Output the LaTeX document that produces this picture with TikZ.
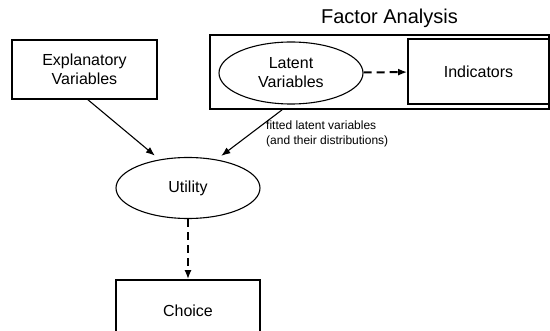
\documentclass[tikz,border=0pt]{standalone}
\usepackage{fontspec}
\setmainfont{Liberation Sans}
\usetikzlibrary{shapes.geometric,arrows.meta,positioning,calc}

\begin{document}
\begin{tikzpicture}[x=1pt,y=1pt,
    box/.style={draw,line width=1.6pt,inner sep=0pt,align=center,font=\fontsize{16}{19}\selectfont},
    blob/.style={draw,ellipse,line width=1.1pt,inner sep=0pt,minimum width=144pt,minimum height=62pt,align=center,font=\fontsize{16}{19}\selectfont},
    arr/.style={-{Latex[length=9pt,width=7pt]},line width=1.1pt},
    darr/.style={arr,line width=2pt,dash pattern=on 8pt off 5pt}]

    % Рамка картинки 550 x 330
    \useasboundingbox (0,0) rectangle (550,330);

    % Блок факторного аналізу (права частина обрізана краєм)
    \node[draw,line width=1.8pt,minimum width=339pt,minimum height=74pt] (fa) at (379.5,258) {};
    \node[font=\fontsize{20}{24}\selectfont] (fatitle) at (389.5,312) {Factor Analysis};

    % Вузли
    \node[box,minimum width=145pt,minimum height=59pt] (expl) at (84.5,260.5) {Explanatory\\Variables};
    \node[blob] (latent) at (291,257) {Latent\\Variables};
    \node[box,minimum width=141pt,minimum height=65pt] (ind) at (478.5,258.5) {Indicators};
    \node[blob,minimum height=61pt] (util) at (188,142) {Utility};
    \node[box,minimum width=144pt,minimum height=62pt] (choice) at (188,19) {Choice};

    % Стрілки
    \draw[darr] (latent) -- (ind);
    \draw[arr,shorten >=6pt] ([xshift=3.5pt]expl.south) -- (util.135);
    \draw[arr,shorten >=6pt] ([xshift=-9pt]latent.south |- fa.south) -- (util.45);
    \draw[darr] (util) -- (choice);

    % Підпис біля стрілки
    \node[anchor=north west,align=left,inner sep=0pt,font=\fontsize{12}{15}\selectfont] (fit) at (266,209)
        {fitted latent variables\\(and their distributions)};
\end{tikzpicture}
\end{document}
